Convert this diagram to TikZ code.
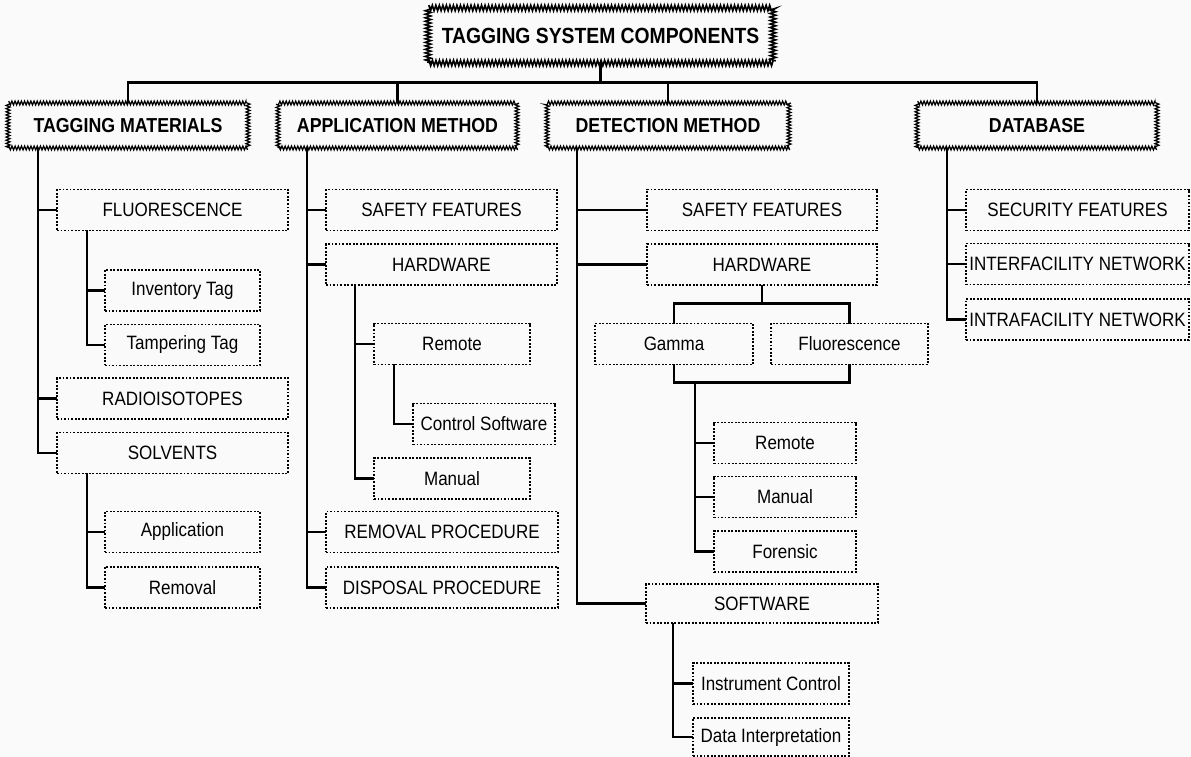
\documentclass[tikz,border=0pt]{standalone}
\usepackage{fontspec}
\setmainfont{Liberation Sans}[FakeStretch=0.88]
\usetikzlibrary{calc,decorations.pathmorphing}

\begin{document}
\begin{tikzpicture}[x=0.02cm,y=-0.02cm,
  every node/.style={inner sep=0pt, outer sep=0pt, align=center},
  titlebox/.style={draw, line width=0.9pt, decorate, decoration={zigzag,amplitude=1.6pt,segment length=2pt}, font=\fontsize{12.5}{14}\selectfont\bfseries},
  topbox/.style={draw, line width=0.7pt, decorate, decoration={zigzag,amplitude=1.1pt,segment length=1.8pt}, minimum height=0.9cm, font=\fontsize{11.5}{13}\selectfont\bfseries},
  subbox/.style={draw, line width=1.1pt, dash pattern=on 1.1pt off 0.9pt, minimum height=0.82cm, font=\fontsize{11}{13}\selectfont},
  link/.style={line width=1.3pt}]
\useasboundingbox[fill=black!2] (0,0) rectangle (1191,757);

% Heading
\node[titlebox, minimum width=6.9cm, minimum height=1.1cm] (title) at (600.5,35.5) {TAGGING SYSTEM COMPONENTS};

% Main branches left to right
\node[topbox, minimum width=4.8cm] (tm) at (128,125.5) {TAGGING MATERIALS};
\node[topbox, minimum width=4.78cm] (am) at (397.5,125.5) {APPLICATION METHOD};
\node[topbox, minimum width=4.84cm] (dm) at (668,125.5) {DETECTION METHOD};
\node[topbox, minimum width=4.8cm] (db) at (1037,125.5) {DATABASE};

% Tagging materials
\node[subbox, minimum width=4.62cm] (fl) at (172.5,210) {FLUORESCENCE};
\node[subbox, minimum width=3.1cm] (inv) at (182.5,290.5) {Inventory Tag};
\node[subbox, minimum width=3.1cm] (tamp) at (182.5,345) {Tampering Tag};
\node[subbox, minimum width=4.62cm] (radio) at (172.5,398.5) {RADIOISOTOPES};
\node[subbox, minimum width=4.62cm] (solv) at (172.5,453) {SOLVENTS};
\node[subbox, minimum width=3.1cm] (appl) at (182.5,532) {Application};
\node[subbox, minimum width=3.1cm] (remv) at (182.5,587.5) {Removal};

% Application method
\node[subbox, minimum width=4.62cm] (asafe) at (441.5,210) {SAFETY FEATURES};
\node[subbox, minimum width=4.62cm] (ahw) at (441.5,264.5) {HARDWARE};
\node[subbox, minimum width=3.12cm] (arem) at (452,344) {Remote};
\node[subbox, minimum width=2.84cm] (actl) at (484,424) {Control Software};
\node[subbox, minimum width=3.12cm] (aman) at (452,478.5) {Manual};
\node[subbox, minimum width=4.64cm] (arp) at (442,532) {REMOVAL PROCEDURE};
\node[subbox, minimum width=4.64cm] (adp) at (442,587.5) {DISPOSAL PROCEDURE};

% Detection method
\node[subbox, minimum width=4.6cm] (dsafe) at (762,210) {SAFETY FEATURES};
\node[subbox, minimum width=4.6cm] (dhw) at (762,264.5) {HARDWARE};
\node[subbox, minimum width=3.16cm] (gam) at (674,344) {Gamma};
\node[subbox, minimum width=3.14cm] (dfl) at (849.5,344) {Fluorescence};
\node[subbox, minimum width=2.84cm] (drem) at (785,443) {Remote};
\node[subbox, minimum width=2.84cm] (dman) at (785,497) {Manual};
\node[subbox, minimum width=2.84cm] (dfor) at (785,551.5) {Forensic};
\node[subbox, minimum width=4.64cm, minimum height=0.78cm] (sw) at (762,603.5) {SOFTWARE};
\node[subbox, minimum width=3.12cm] (ictl) at (771,683.5) {Instrument Control};
\node[subbox, minimum width=3.12cm, minimum height=0.76cm] (dint) at (771,737) {Data Interpretation};

% Database
\node[subbox, minimum width=4.46cm] (sec) at (1077.5,210) {SECURITY FEATURES};
\node[subbox, minimum width=4.46cm] (inter) at (1077.5,264) {INTERFACILITY NETWORK};
\node[subbox, minimum width=4.46cm] (intra) at (1077.5,319.5) {INTRAFACILITY NETWORK};

% Heading to main branches
\coordinate (bus) at (600,82.5);
\draw[link] (title.south) -- (title.south |- bus);
\draw[link] (tm.north) |- (bus) -| (db.north);
\foreach \n in {am,dm} \draw[link] (\n.north) -- (\n.north |- bus);

% Tagging materials lines
\draw[link] ($(tm.south west)+(30,0)$) coordinate (tmt) |- (solv.west);
\foreach \n in {fl,radio} \draw[link] (tmt |- \n.west) -- (\n.west);
\draw[link] ($(fl.south west)+(30,0)$) coordinate (flt) |- (tamp.west);
\draw[link] (flt |- inv.west) -- (inv.west);
\draw[link] ($(solv.south west)+(30,0)$) coordinate (svt) |- (remv.west);
\draw[link] (svt |- appl.west) -- (appl.west);

% Application method lines
\draw[link] ($(am.south west)+(29,0)$) coordinate (amt) |- (adp.west);
\foreach \n in {asafe,ahw,arp} \draw[link] (amt |- \n.west) -- (\n.west);
\draw[link] ($(ahw.south west)+(29,0)$) coordinate (hwt) |- (aman.west);
\draw[link] (hwt |- arem.west) -- (arem.west);
\draw[link] ($(arem.south west)+(20,0)$) |- (actl.west);

% Detection method lines
\draw[link] ($(dm.south west)+(30,0)$) coordinate (dmt) |- (sw.west);
\foreach \n in {dsafe,dhw} \draw[link] (dmt |- \n.west) -- (\n.west);
\draw[link] (dhw.south) -- ++(0,18.5) coordinate (hwbus);
\draw[link] (gam.north) |- (hwbus) -| (dfl.north);
\draw[link] (gam.south) -- ++(0,18) -| (dfl.south);
\draw[link] ($(gam.south)+(21,18)$) coordinate (gmt) |- (dfor.west);
\foreach \n in {drem,dman} \draw[link] (gmt |- \n.west) -- (\n.west);
\draw[link] ($(sw.south west)+(27,0)$) coordinate (swt) |- (dint.west);
\draw[link] (swt |- ictl.west) -- (ictl.west);

% Database lines
\draw[link] ($(db.south west)+(30,0)$) coordinate (dbt) |- (intra.west);
\foreach \n in {sec,inter} \draw[link] (dbt |- \n.west) -- (\n.west);
\end{tikzpicture}
\end{document}
